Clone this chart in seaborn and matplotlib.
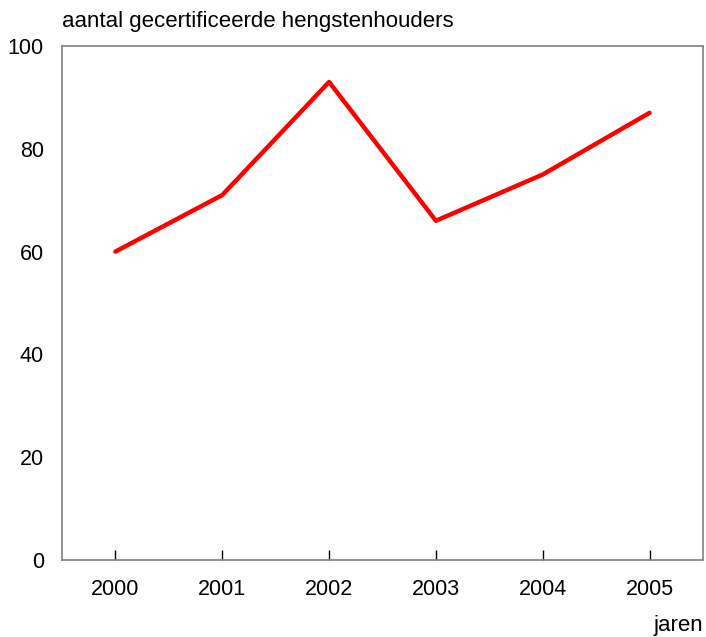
import matplotlib
matplotlib.use("Agg")
import matplotlib.pyplot as plt
import seaborn as sns
import pandas as pd

years = ["2000", "2001", "2002", "2003", "2004", "2005"]
values = [60, 71, 93, 66, 75, 87]
y_ticks = [0, 20, 40, 60, 80, 100]

sns.set_style("white")
plt.rcParams['font.family'] = ['Liberation Sans', 'DejaVu Sans']
plt.rcParams['text.color'] = 'black'
plt.rcParams['xtick.color'] = 'black'
plt.rcParams['ytick.color'] = 'black'

df = pd.DataFrame({"pos": range(len(years)), "value": values})

fig = plt.figure(figsize=(7.06, 6.37), dpi=100)
ax = fig.add_axes([62/706, 1 - 560/637, (703-62)/706, (560-46)/637])
sns.lineplot(data=df, x="pos", y="value", ax=ax, color="#ff0000", linewidth=3.2)

ax.set_xlim(-0.5, len(years) - 0.5)
ax.set_ylim(0, 100)
ax.set_xticks(range(len(years)))
ax.set_xticklabels(years)
ax.set_yticks(y_ticks)
ax.set_xlabel("")
ax.set_ylabel("")
ax.tick_params(axis="x", bottom=True, direction="in", length=7, width=1,
               color="black", labelcolor="black", pad=14, labelsize=15.5)
ax.tick_params(axis="y", left=False, length=0, pad=13, labelsize=15.5, labelcolor="black")
for s in ax.spines.values():
    s.set_color("#808080")
    s.set_linewidth(1.2)
    s.set_visible(True)

fig.text(62/706, 1 - 22/637, "aantal gecertificeerde hengstenhouders", fontsize=16,
         ha="left", va="center", color="black")
fig.text(703/706, 1 - 625/637, "jaren", fontsize=16, ha="right", va="center", color="black")

fig.savefig("out.png", dpi=100)
